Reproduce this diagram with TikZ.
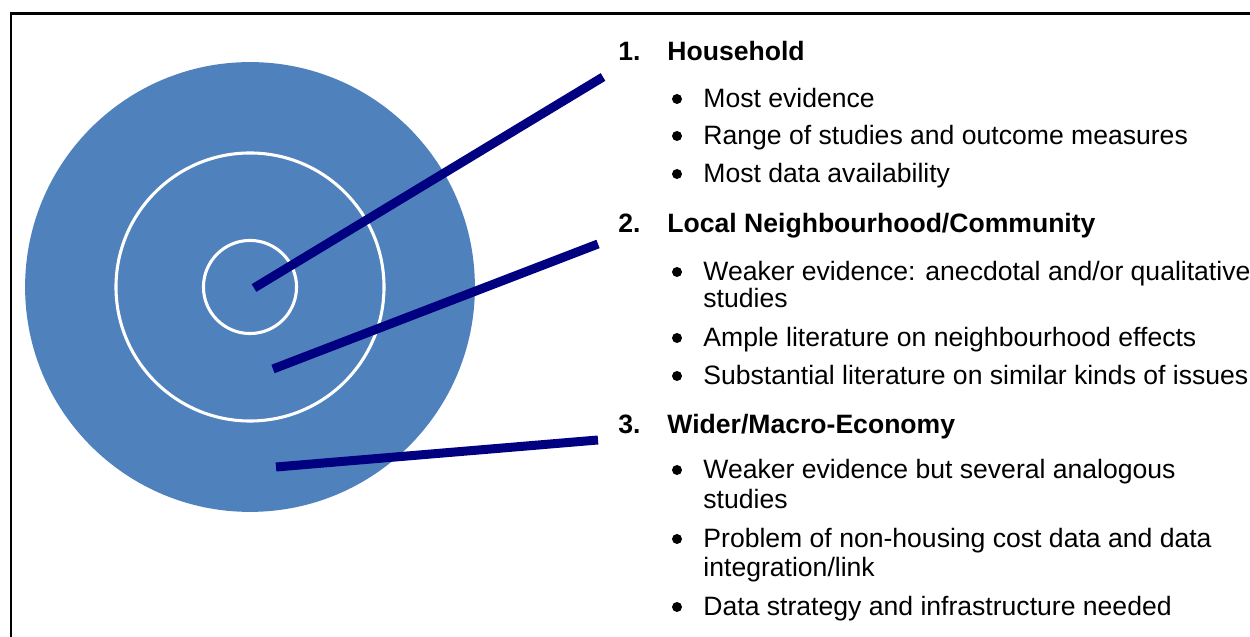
\documentclass[tikz,border=0pt]{standalone}
\usepackage{fontspec}
\setmainfont{Liberation Sans}

\definecolor{discblue}{RGB}{79,129,189}
\definecolor{linkblue}{RGB}{0,0,128}
\tikzstyle{disc}=[circle,fill=discblue,inner sep=0pt,minimum size=7.2cm]
\tikzstyle{ring}=[circle,draw=white,line width=1.4pt,inner sep=0pt]
\tikzstyle{link}=[draw=linkblue,line width=4.1pt]
\tikzstyle{heading}=[anchor=base west,inner sep=0pt,font=\fontsize{12.1}{14}\selectfont\bfseries]
\tikzstyle{item}=[anchor=base west,inner sep=0pt,font=\fontsize{12.1}{14}\selectfont]
\tikzstyle{dot}=[circle,fill=black,inner sep=0pt,minimum size=0.16cm]

\begin{document}
\begin{tikzpicture}[x=0.016cm, y=-0.016cm]
    \useasboundingbox (0,0) rectangle (1250,637);
    % Frame, cut off at the right and at the bottom
    \draw[line width=1.1pt] (11,637) -- (11,13.5) -- (1250,13.5);

    % First we draw the target
    \node[disc] (disc) at (250,287) {};
    \node[ring, minimum size=4.29cm] (middle) at (250,287) {};
    \node[ring, minimum size=1.49cm] (inner) at (250,287) {};

    % Headings
    \foreach \y/\num/\name/\text in {61/1./house/Household, 233/2./local/{Local Neighbourhood/Community}, 434/3./wider/{Wider/Macro-Economy}}{
        \node[heading] (\name num) at (618,\y) {\num};
        \node[heading] (\name) at (667,\y) {\text};
    }

    % Bullets
    \foreach \y/\name/\text in {108/most/Most evidence, 145/range/Range of studies and outcome measures, 183/data/Most data availability,
        281/weak/{Weaker evidence: anecdotal and/or qualitative}, 347/ample/Ample literature on neighbourhood effects,
        385/subst/Substantial literature on similar kinds of issues, 479/analog/Weaker evidence but several analogous,
        548/cost/Problem of non-housing cost data and data, 616/strat/Data strategy and infrastructure needed}{
        \node[dot] (\name dot) at (677,\y-9) {};
        \node[item] (\name) at (703,\y) {\text};
    }
    % Wrapped second lines
    \foreach \y/\name/\text in {308/weakb/studies, 509/analogb/studies, 577/costb/{integration/link}}
        \node[item] (\name) at (703,\y) {\text};

    % Connect the rings with the headings
    \coordinate (c1) at (254,288);
    \coordinate (c2) at (273,369);
    \coordinate (c3) at (276,467);
    \coordinate (e1) at (603,77);
    \coordinate (e2) at (598,244);
    \coordinate (e3) at (598,440);
    \foreach \source/\dest in {c1/e1, c2/e2, c3/e3}
        \path[link] (\source) -- (\dest);
\end{tikzpicture}
\end{document}
